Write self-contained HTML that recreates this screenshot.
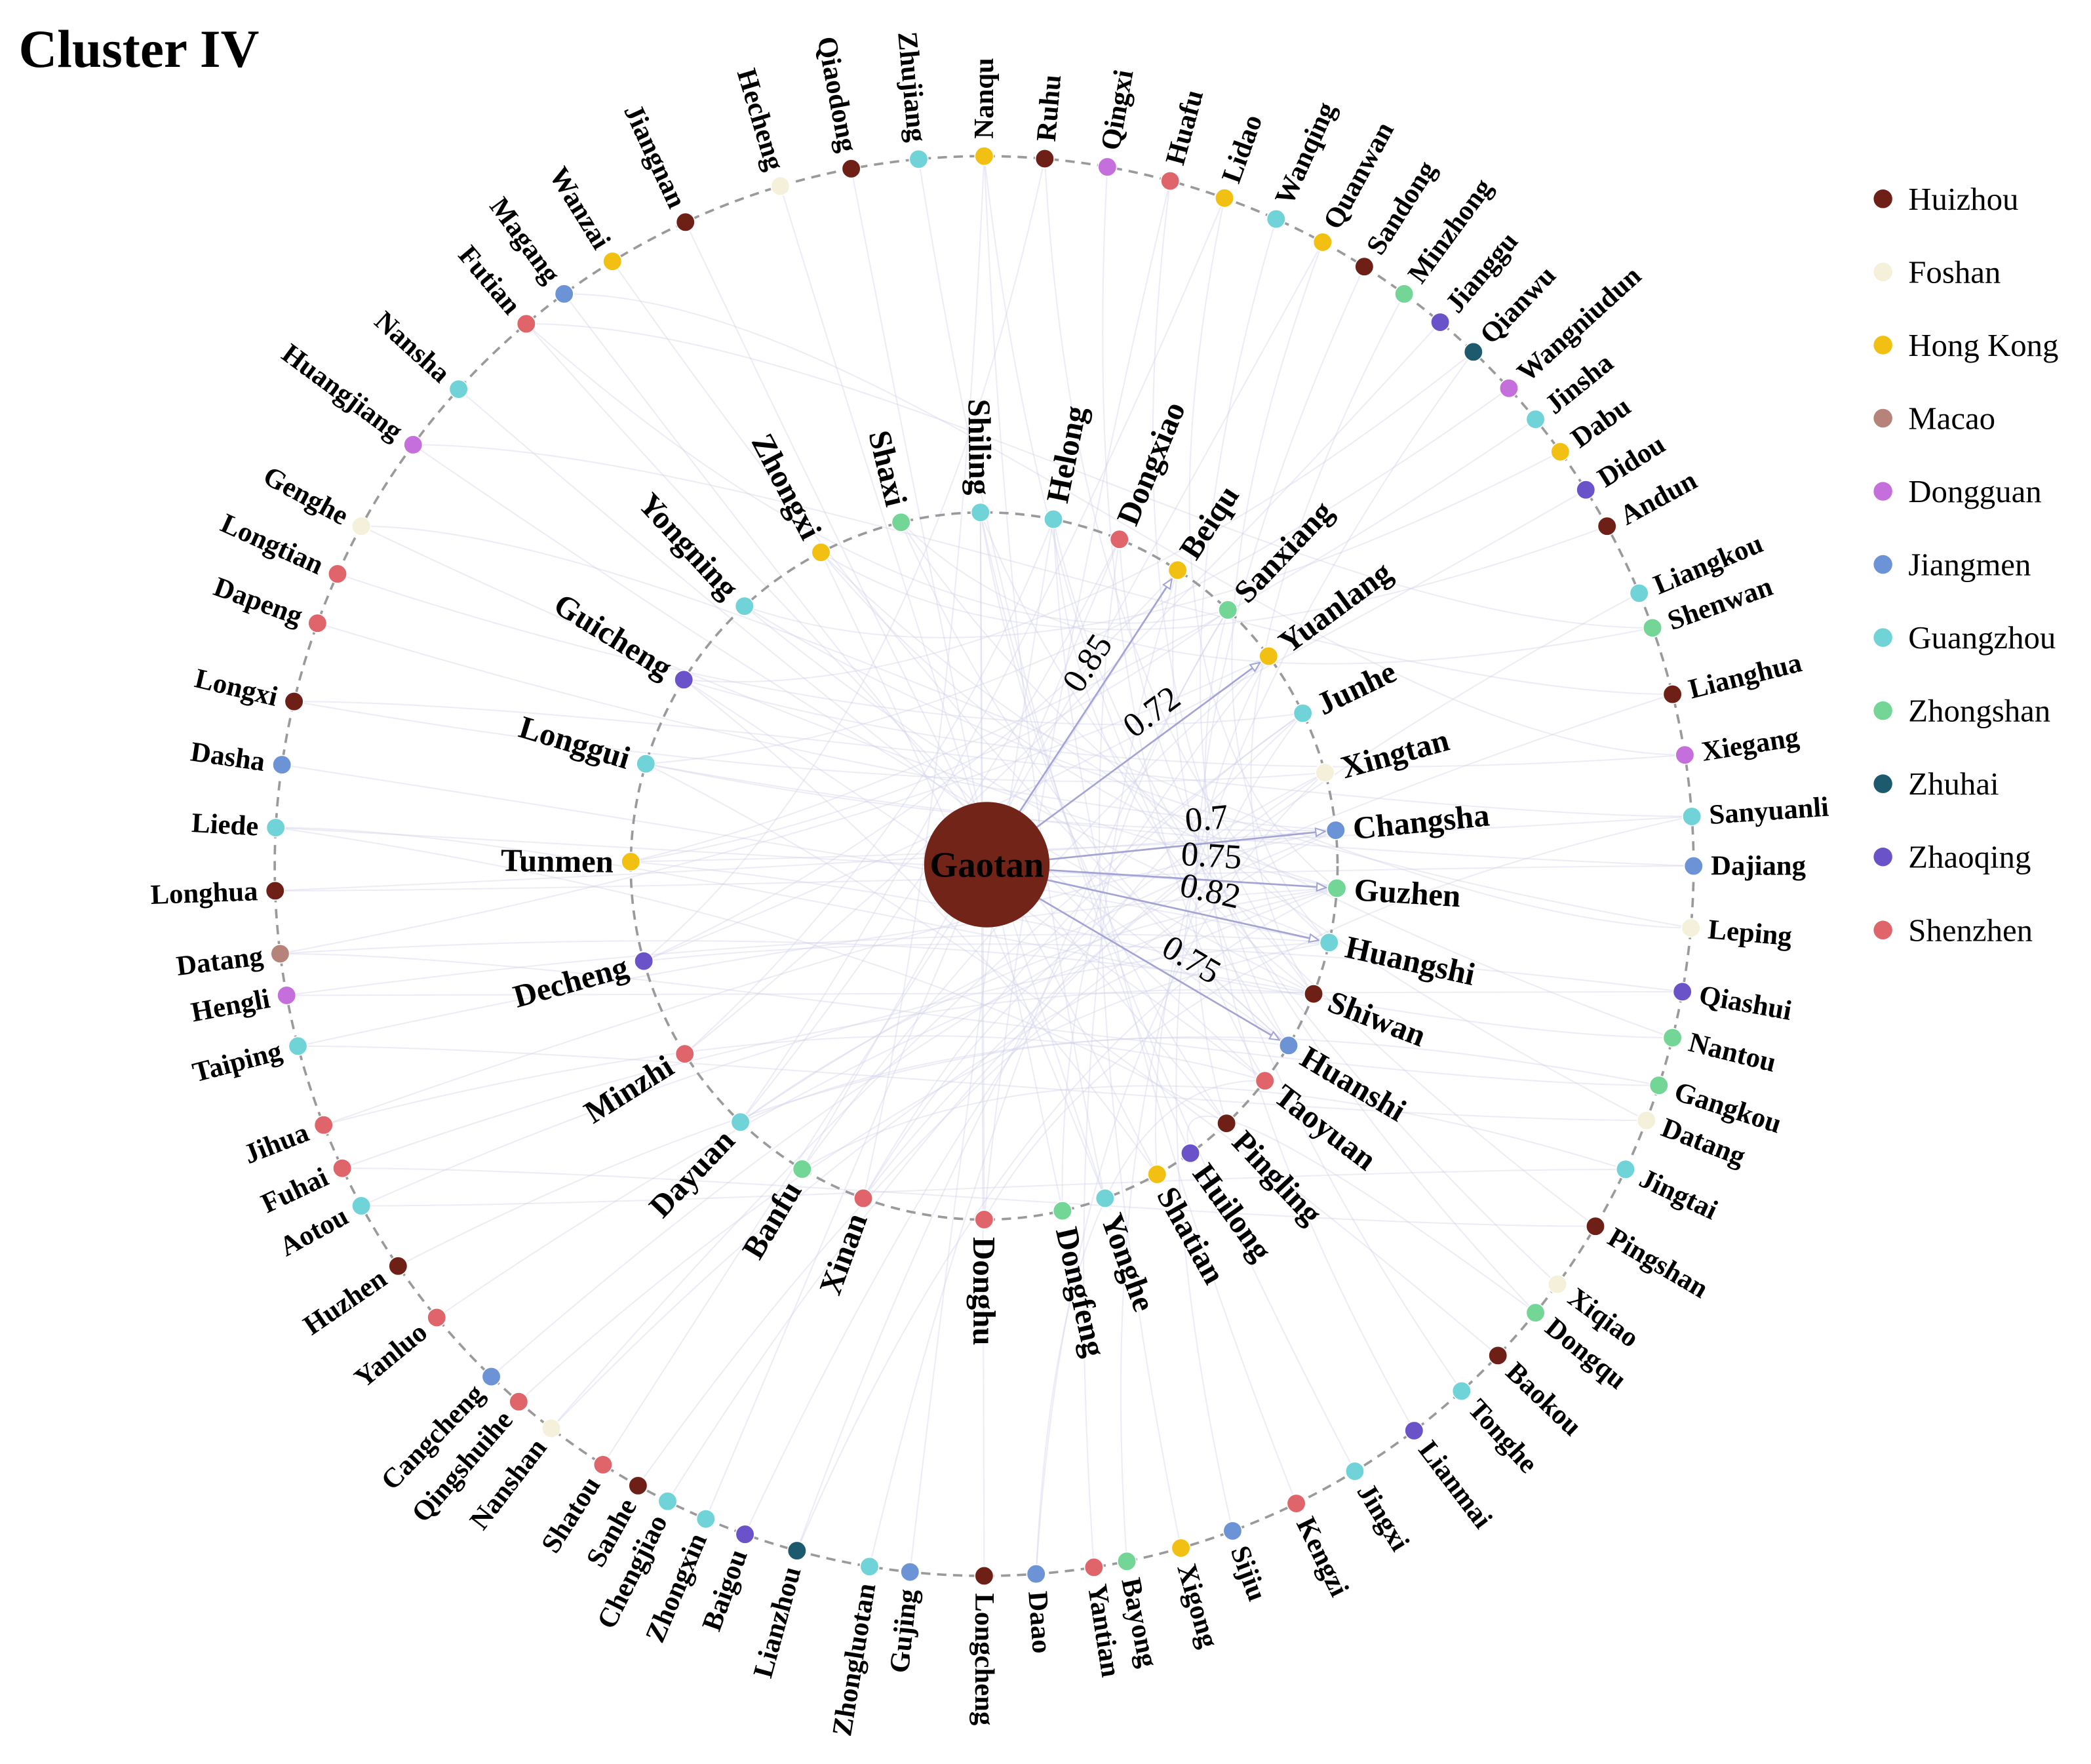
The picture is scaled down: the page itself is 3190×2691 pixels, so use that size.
<!DOCTYPE html>
<html><head><meta charset="utf-8"><title>Cluster IV</title>
<style>
html,body{margin:0;padding:0;background:#fff;}
svg{display:block;}
text{font-family:"Liberation Serif",serif;}
</style></head>
<body>
<svg id="chart" xmlns="http://www.w3.org/2000/svg" width="3190" height="2691" viewBox="0 0 1568 1322" preserveAspectRatio="none">
<text x="14" y="50" font-size="40" font-weight="bold">Cluster IV</text>
<g id="edges"></g>
<g id="rings"></g>
<g id="hub"></g>
<g id="nodes"></g>
<g id="legend"></g>
</svg>
<script>
const cityNames = ["Huizhou","Foshan","Hong Kong","Macao","Dongguan","Jiangmen","Guangzhou","Zhongshan","Zhuhai","Zhaoqing","Shenzhen"];
const cityColors = ["#6e2016","#f4f0da","#f2c012","#b5837a","#c46fdc","#6b93d6","#70d3d7","#73d596","#1e5a6e","#6a52c8","#e0656a"];

const outerNames = ["Nanqu","Ruhu","Qingxi","Huafu","Lidao","Wanqing","Quanwan","Sandong","Minzhong","Jianggu","Qianwu","Wangniudun","Jinsha","Dabu","Didou","Andun","Liangkou","Shenwan","Lianghua","Xiegang","Sanyuanli","Dajiang","Leping","Qiashui","Nantou","Gangkou","Datang","Jingtai","Pingshan","Xiqiao","Dongqu","Baokou","Tonghe","Lianmai","Jingxi","Kengzi","Sijiu","Xigong","Bayong","Yantian","Daao","Longcheng","Gujing","Zhongluotan","Lianzhou","Baigou","Zhongxin","Chengjiao","Sanhe","Shatou","Nanshan","Qingshuihe","Cangcheng","Yanluo","Huzhen","Aotou","Fuhai","Jihua","Taiping","Hengli","Datang","Longhua","Liede","Dasha","Longxi","Dapeng","Longtian","Genghe","Huangjiang","Nansha","Futian","Magang","Wanzai","Jiangnan","Hecheng","Qiaodong","Zhujiang"];
const outerCity = ["Hong Kong","Huizhou","Dongguan","Shenzhen","Hong Kong","Guangzhou","Hong Kong","Huizhou","Zhongshan","Zhaoqing","Zhuhai","Dongguan","Guangzhou","Hong Kong","Zhaoqing","Huizhou","Guangzhou","Zhongshan","Huizhou","Dongguan","Guangzhou","Jiangmen","Foshan","Zhaoqing","Zhongshan","Zhongshan","Foshan","Guangzhou","Huizhou","Foshan","Zhongshan","Huizhou","Guangzhou","Zhaoqing","Guangzhou","Shenzhen","Jiangmen","Hong Kong","Zhongshan","Shenzhen","Jiangmen","Huizhou","Jiangmen","Guangzhou","Zhuhai","Zhaoqing","Guangzhou","Guangzhou","Huizhou","Shenzhen","Foshan","Shenzhen","Jiangmen","Shenzhen","Huizhou","Guangzhou","Shenzhen","Shenzhen","Guangzhou","Dongguan","Macao","Huizhou","Guangzhou","Jiangmen","Huizhou","Shenzhen","Shenzhen","Foshan","Dongguan","Guangzhou","Shenzhen","Jiangmen","Hong Kong","Huizhou","Foshan","Huizhou","Guangzhou"];
const outerAngle = [0,4.9,10,15.2,19.8,24.3,28.5,32.4,36.3,40,43.6,47.7,51,54.3,58,61.4,67.4,70.4,76,81,86,90,95,100.2,104,108,111,115.3,120.5,126.1,129,133.6,137.7,142.7,148.5,153.9,159.5,163.9,168.4,171.1,175.8,180,186,189.3,195.3,199.7,203.1,206.5,209.2,212.5,217.6,221,224,230.5,235.7,241.4,244.8,248.6,255.3,259.5,262.9,268,273.1,278.2,283.4,290,294.3,298.6,306.4,312.2,319.8,323.7,328.4,335.1,343.3,349.2,354.7];

const innerNames = ["Shiling","Helong","Dongxiao","Beiqu","Sanxiang","Yuanlang","Junhe","Xingtan","Changsha","Guzhen","Huangshi","Shiwan","Huanshi","Taoyuan","Pingling","Huilong","Shatian","Yonghe","Dongfeng","Donghu","Xinan","Banfu","Dayuan","Minzhi","Decheng","Tunmen","Longgui","Guicheng","Yongning","Zhongxi","Shaxi"];
const innerCity = ["Guangzhou","Guangzhou","Shenzhen","Hong Kong","Zhongshan","Hong Kong","Guangzhou","Foshan","Jiangmen","Zhongshan","Guangzhou","Huizhou","Jiangmen","Shenzhen","Huizhou","Zhaoqing","Hong Kong","Guangzhou","Zhongshan","Shenzhen","Shenzhen","Zhongshan","Guangzhou","Shenzhen","Zhaoqing","Hong Kong","Guangzhou","Zhaoqing","Guangzhou","Hong Kong","Zhongshan"];
const innerAngle = [359.4,11.3,22.5,33.2,43.6,53.6,64.4,74.7,84.2,93.6,102.5,111.2,120.5,127.4,136.7,144.3,150.7,160,167.2,180,200,211,223.6,237.9,254.4,270.7,286.8,301.8,317.3,332.5,346.4];

const hubTargets = ["Beiqu","Yuanlang","Changsha","Guzhen","Huangshi","Huanshi"];
const hubWeights = ["0.85","0.72","0.7","0.75","0.82","0.75"];

const outerInnerEdges = [[0,12],[0,20],[1,10],[1,24],[2,13],[3,11],[4,9],[4,22],[5,12],[6,10],[7,14],[8,11],[9,23],[10,27],[11,26],[12,25],[13,28],[14,24],[15,29],[16,20],[17,30],[18,22],[19,27],[20,25],[21,26],[22,28],[23,24],[24,29],[25,22],[26,30],[27,21],[28,0],[29,1],[30,2],[31,26],[32,3],[33,4],[34,0],[35,1],[36,5],[37,2],[38,6],[39,3],[40,7],[41,0],[42,1],[43,4],[44,5],[45,6],[46,2],[47,7],[48,8],[49,3],[50,9],[51,10],[52,8],[53,9],[54,12],[55,10],[56,11],[57,8],[58,9],[59,10],[60,11],[61,8],[62,9],[63,10],[64,7],[65,8],[66,6],[67,9],[68,11],[69,12],[70,13],[71,14],[72,12],[73,16],[74,17],[75,18],[76,15],[0,17],[3,19],[6,21],[10,16],[20,19],[30,15],[40,13],[50,6],[60,5],[70,4],[57,13],[62,14],[44,9]];
const innerInnerEdges = [[0,19],[3,24],[5,21],[1,23],[8,26],[10,28],[12,30],[14,0],[16,27],[18,4],[20,6],[22,9],[25,11],[27,13],[29,17],[2,22],[4,25],[7,20],[9,29],[11,1]];
const outerOuterEdges = [[61,21],[59,23],[58,26],[64,20],[56,28],[55,27],[68,18],[70,17],[71,19],[67,22],[62,24],[60,25]];

const CX=738, CY=649, RO=532, RI=265, NS="http://www.w3.org/2000/svg";
function colorOf(c){return cityColors[cityNames.indexOf(c)];}
function pos(angle,r){const a=angle*Math.PI/180;return [CX+r*Math.sin(a), CY-r*Math.cos(a)];}
function mk(tag,attrs,parent){const e=document.createElementNS(NS,tag);for(const k in attrs)e.setAttribute(k,attrs[k]);parent.appendChild(e);return e;}

const gE=document.getElementById('edges');
function curve(p,q){
  const mx=(p[0]+q[0])/2,my=(p[1]+q[1])/2;
  const cx=CX+(mx-CX)*0.45, cy=CY+(my-CY)*0.45;
  const e=mk('path',{d:`M${p[0]},${p[1]} Q${cx},${cy} ${q[0]},${q[1]}`,fill:'none',stroke:'#cfcfe8','stroke-width':1,'stroke-opacity':0.4},gE);
  
  
}
outerInnerEdges.forEach(([o,i])=>curve(pos(outerAngle[o],RO),pos(innerAngle[i],RI)));
innerInnerEdges.forEach(([a,b])=>curve(pos(innerAngle[a],RI),pos(innerAngle[b],RI)));
outerOuterEdges.forEach(([a,b])=>{
  const p=pos(outerAngle[a],RO),q=pos(outerAngle[b],RO);
  const e=mk('path',{d:`M${p[0]},${p[1]} C${p[0]+250},${p[1]} ${q[0]-250},${q[1]} ${q[0]},${q[1]}`,fill:'none',stroke:'#cfcfe8','stroke-width':1,'stroke-opacity':0.4},gE);
  
  
});

const gR=document.getElementById('rings');
const r1=mk('circle',{cx:CX,cy:CY,r:RO,fill:'none',stroke:'#9a9a9a','stroke-width':1.8,'stroke-dasharray':'7 5'},gR);


const r2=mk('circle',{cx:CX,cy:CY,r:RI,fill:'none',stroke:'#9a9a9a','stroke-width':1.8,'stroke-dasharray':'7 5'},gR);



const gH=document.getElementById('hub');
const HR=47;
hubTargets.forEach((nm,k)=>{
  const idx=innerNames.indexOf(nm);
  const q=pos(innerAngle[idx],RI);
  const dx=q[0]-CX,dy=q[1]-CY,L=Math.hypot(dx,dy),ux=dx/L,uy=dy/L;
  const p=[CX+ux*HR,CY+uy*HR], q2=[q[0]-ux*8,q[1]-uy*8];
  const ln=mk('line',{x1:p[0],y1:p[1],x2:q2[0],y2:q2[1],stroke:'#a3a3d4','stroke-width':1.3},gH);
  
  
  const px=-uy,py=ux;
  const ah=mk('path',{d:`M${q2[0]},${q2[1]} L${q2[0]-ux*7+px*3},${q2[1]-uy*7+py*3} L${q2[0]-ux*7-px*3},${q2[1]-uy*7-py*3}Z`,fill:'#fff',stroke:'#a3a3d4','stroke-width':1},gH);
  
  
  const t=0.64;
  let lx=CX+dx*t, ly=CY+dy*t;
  let nx=uy, ny=-ux; if(ny>0){nx=-nx;ny=-ny;}
  lx+=nx*10; ly+=ny*10;
  let ang=Math.atan2(dy,dx)*180/Math.PI; if(ang>90)ang-=180; if(ang<-90)ang+=180;
  const tx=mk('text',{x:lx,y:ly,'font-size':26,'text-anchor':'middle',transform:`rotate(${ang},${lx},${ly})`},gH);
  tx.textContent=hubWeights[k];
  
  
});

const gN=document.getElementById('nodes');
function drawNode(name,city,angle,r,fs,prefix){
  const p=pos(angle,r);
  const c=mk('circle',{cx:p[0],cy:p[1],r:7,fill:colorOf(city),stroke:'#fff','stroke-width':0.8},gN);
  
  
  const lp=pos(angle,r+13);
  let rot, anchor;
  if(angle<=180){rot=angle-90;anchor='start';}else{rot=angle+90;anchor='end';}
  const t=mk('text',{x:lp[0],y:lp[1],'font-size':fs,'font-weight':'bold','text-anchor':anchor,'dominant-baseline':'central',transform:`rotate(${rot},${lp[0]},${lp[1]})`},gN);
  t.textContent=name;
  
  
}
outerNames.forEach((n,i)=>drawNode(n,outerCity[i],outerAngle[i],RO,21,'outer'));
innerNames.forEach((n,i)=>drawNode(n,innerCity[i],innerAngle[i],RI,24,'inner'));

const hub=mk('circle',{cx:740,cy:648,r:HR,fill:'#722418'},gN);


const ht=mk('text',{x:740,y:648,'font-size':27,'font-weight':'bold','text-anchor':'middle','dominant-baseline':'central',fill:'#000'},gN);
ht.textContent='Gaotan';



const gL=document.getElementById('legend');
cityNames.forEach((c,i)=>{
  const y=149+i*54.8;
  const d=mk('circle',{cx:1412,cy:y,r:7,fill:cityColors[i]},gL);
  
  
  const t=mk('text',{x:1431,y:y,'font-size':24,'dominant-baseline':'central'},gL);
  t.textContent=c;
  
  
});
</script>
</body></html>
